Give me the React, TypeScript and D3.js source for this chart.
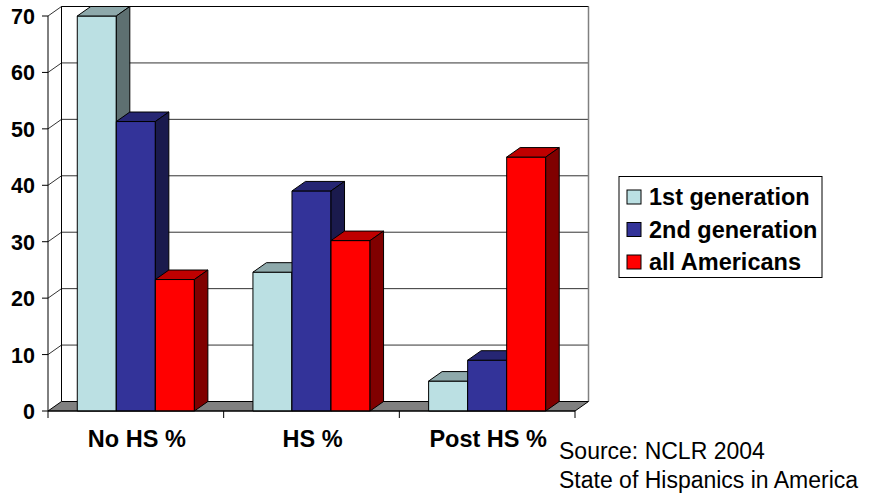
import React, { useEffect } from 'react';
import * as d3 from 'd3';

const categories = ['No HS %', 'HS %', 'Post HS %'];
const seriesNames = ['1st generation', '2nd generation', 'all Americans'];
const firstGen = [70, 24.6, 5.3];
const secondGen = [51.3, 39, 9];
const allAmericans = [23.3, 30.2, 45];
const yTicks = [0, 10, 20, 30, 40, 50, 60, 70];
const sourceLines = ['Source: NCLR 2004', 'State of Hispanics in America'];

const seriesValues = [firstGen, secondGen, allAmericans];
const palette = [
  { front: '#BBE0E3', top: '#8EA9AB', side: '#5E7071' },
  { front: '#333399', top: '#262673', side: '#1A1A4D' },
  { front: '#FF0000', top: '#BF0000', side: '#800000' },
];

const W = 872;
const H = 494;
const DX = 13.5;
const DY = -9.5;
const FONT = '"Liberation Sans", Arial, Helvetica, sans-serif';

export default function App() {
  useEffect(() => {
    document.body.style.margin = '0';
  }, []);

  const x0 = d3.scaleBand<string>().domain(categories).range([48, 575]);
  const x1 = d3.scaleBand<string>().domain(seriesNames).range([0, x0.bandwidth()]).paddingOuter(0.75);
  const y = d3.scaleLinear().domain([0, 70]).range([411, 16]);

  const left = x0.range()[0];
  const right = x0.range()[1];
  const base = y(0);
  const top = y(70);

  const poly = (pts: [number, number][]) => pts.map(p => p.join(',')).join(' ');

  const bars: JSX.Element[] = [];
  categories.forEach((cat, ci) => {
    seriesNames.forEach((s, si) => {
      const v = seriesValues[si][ci];
      const bx = (x0(cat) || 0) + (x1(s) || 0);
      const bw = x1.bandwidth();
      const ty = y(v);
      const c = palette[si];
      bars.push(
        <g key={`${ci}-${si}`} stroke="#000" strokeWidth={1} strokeLinejoin="round">
          <rect x={bx} y={ty} width={bw} height={base - ty} fill={c.front} />
          <polygon fill={c.top} points={poly([[bx, ty], [bx + DX, ty + DY], [bx + bw + DX, ty + DY], [bx + bw, ty]])} />
          <polygon fill={c.side} points={poly([[bx + bw, ty], [bx + bw + DX, ty + DY], [bx + bw + DX, base + DY], [bx + bw, base]])} />
        </g>
      );
    });
  });

  return (
    <svg width={W} height={H} style={{ display: 'block', background: '#fff' }} fontFamily={FONT}>
      {/* back wall + side wall grid */}
      <g fill="none">
        {yTicks.filter(t => t > 0).map(t => (
          <g key={t} stroke="#333" strokeWidth={1}>
            <line x1={left} y1={y(t)} x2={left + DX} y2={y(t) + DY} />
            <line x1={left + DX} y1={y(t) + DY} x2={right + DX} y2={y(t) + DY} />
          </g>
        ))}
        <line x1={left + DX} y1={top + DY} x2={right + DX} y2={top + DY} stroke="#000" />
        <line x1={left + DX} y1={top + DY} x2={left + DX} y2={base + DY} stroke="#000" />
        <line x1={right + DX} y1={top + DY} x2={right + DX} y2={base + DY} stroke="#808080" strokeWidth={1.5} />
      </g>
      {/* floor */}
      <polygon
        points={poly([[left, base], [right, base], [right + DX, base + DY], [left + DX, base + DY]])}
        fill="#808080"
        stroke="#000"
        strokeWidth={1}
      />
      {bars}
      {/* axes */}
      <g stroke="#000" strokeWidth={1}>
        <line x1={left} y1={top} x2={left} y2={base} />
        <line x1={left} y1={base} x2={right} y2={base} />
        {yTicks.map(t => (
          <line key={t} x1={left - 6} y1={y(t)} x2={left} y2={y(t)} />
        ))}
        {[...categories.map(c => x0(c) || 0), right].map((xv, i) => (
          <line key={i} x1={xv} y1={base} x2={xv} y2={base + 7} />
        ))}
      </g>
      {yTicks.map(t => (
        <text key={t} x={35} y={y(t) + 8} textAnchor="end" fontSize={21.5} fontWeight="bold">
          {t}
        </text>
      ))}
      {categories.map(c => (
        <text key={c} x={(x0(c) || 0) + x0.bandwidth() / 2 + 1} y={447} textAnchor="middle" fontSize={23.5} fontWeight="bold">
          {c}
        </text>
      ))}
      {/* legend */}
      <rect x={619} y={176.5} width={203} height={101} fill="#fff" stroke="#000" strokeWidth={1} />
      {seriesNames.map((s, i) => (
        <g key={s}>
          <rect x={627} y={190 + i * 32.5} width={14} height={14} fill={palette[i].front} stroke="#000" strokeWidth={1} />
          <text x={649} y={205 + i * 32.5} fontSize={23.5} fontWeight="bold">
            {s}
          </text>
        </g>
      ))}
      {sourceLines.map((l, i) => (
        <text key={l} x={559} y={459 + i * 29} fontSize={23}>
          {l}
        </text>
      ))}
    </svg>
  );
}
